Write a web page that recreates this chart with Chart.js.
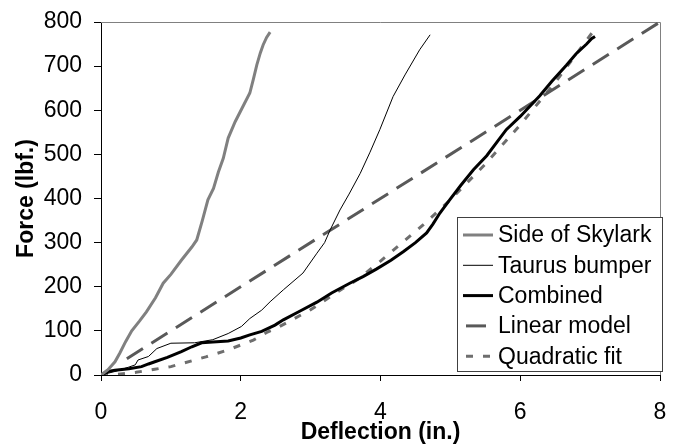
<!DOCTYPE html>
<html>
<head>
<meta charset="utf-8">
<script src="https://cdn.jsdelivr.net/npm/chart.js@4"></script>
<style>
html,body{margin:0;padding:0;background:#fff;}
canvas{display:block;}
</style>
</head>
<body>
<canvas id="c" width="678" height="446"></canvas>
<script>
// ---- data ----
const seriesLabels = ['Side of Skylark', 'Taurus bumper', 'Combined', 'Linear model', 'Quadratic fit'];

const skylarkX = [0, 0.1, 0.2, 0.27, 0.35, 0.44, 0.55, 0.65, 0.78, 0.89, 1.0, 1.15, 1.3, 1.37, 1.45, 1.53, 1.61, 1.68, 1.75, 1.82, 1.92, 2.02, 2.13, 2.18, 2.23, 2.28, 2.32, 2.37, 2.42];
const skylarkY = [0, 12, 30, 50, 75, 100, 122, 143, 175, 208, 228, 260, 290, 306, 350, 397, 423, 460, 491, 537, 574, 605, 639, 670, 703, 730, 748, 765, 777];

const taurusX = [0, 0.2, 0.4, 0.49, 0.53, 0.68, 0.8, 1.0, 1.34, 1.6, 1.82, 2.01, 2.13, 2.3, 2.42, 2.61, 2.89, 3.09, 3.2, 3.28, 3.42, 3.55, 3.71, 3.85, 3.99, 4.18, 4.35, 4.56, 4.71];
const taurusY = [0, 8, 18, 23, 34, 42, 60, 72, 73, 80, 94, 110, 128, 147, 166, 193, 231, 276, 300, 329, 374, 410, 457, 505, 556, 631, 680, 737, 771];

const combinedX = [0, 0.1, 0.2, 0.4, 0.58, 0.68, 0.77, 0.95, 1.15, 1.3, 1.44, 1.6, 1.82, 2.0, 2.13, 2.3, 2.49, 2.61, 2.85, 3.09, 3.3, 3.56, 3.75, 3.94, 4.15, 4.33, 4.5, 4.66, 4.75, 4.85, 4.99, 5.15, 5.33, 5.52, 5.8, 6.0, 6.28, 6.45, 6.66, 6.8, 6.95, 7.02, 7.07];
const combinedY = [0, 8, 11, 14, 19, 25, 30, 40, 53, 64, 73, 75, 77, 84, 91, 99, 113, 125, 145, 165, 186, 208, 223, 240, 260, 280, 300, 322, 342, 367, 397, 430, 465, 497, 556, 586, 633, 665, 702, 728, 750, 762, 767];

const linearX = [0.37, 8];
const linearY = [37, 800];

const quadX = [0, 0.25, 0.5, 0.77, 1.0, 1.34, 1.5, 1.82, 2.18, 2.39, 2.5, 3.0, 3.5, 3.66, 4.0, 4.61, 5.0, 5.5, 6.0, 6.5, 7.04];
const quadY = [0, 2, 6, 13, 19, 34, 41, 57, 79, 98, 105, 148, 200, 215, 258, 340, 397, 478, 567, 663, 778];

const xTicks = [0, 2, 4, 6, 8];
const yTicks = [0, 100, 200, 300, 400, 500, 600, 700, 800];

function pts(xs, ys) { return xs.map((x, i) => ({x: x, y: ys[i]})); }

const FONT = 'Liberation Sans, Arial, Helvetica, sans-serif';
Chart.defaults.font.family = FONT;
Chart.defaults.font.size = 23;
Chart.defaults.color = '#000';

const framePlugin = {
  id: 'frame',
  beforeDatasetsDraw(chart) {
    const {ctx, chartArea: a} = chart;
    ctx.save();
    ctx.strokeStyle = '#808080';
    ctx.lineWidth = 1;
    ctx.beginPath();
    ctx.moveTo(a.left, a.top + 0.5);
    ctx.lineTo(a.right + 0.5, a.top + 0.5);
    ctx.lineTo(a.right + 0.5, a.bottom);
    ctx.stroke();
    ctx.restore();
  }
};

const boxLegend = {
  id: 'boxLegend',
  afterDatasetsDraw(chart) {
    const {ctx, chartArea: a} = chart;
    const L = a.right - 203, R = a.right + 3, T = a.bottom - 158, B = a.bottom - 3;
    ctx.save();
    ctx.fillStyle = '#fff';
    ctx.fillRect(L, T, R - L, B - T);
    ctx.strokeStyle = '#404040';
    ctx.lineWidth = 1;
    ctx.strokeRect(L + 0.5, T + 0.5, R - L - 1, B - T - 1);
    const ds = chart.data.datasets;
    ds.forEach((d, i) => {
      const cy = T + 18 + i * 30.3;
      ctx.beginPath();
      ctx.strokeStyle = d.borderColor;
      ctx.lineWidth = d.borderWidth;
      ctx.setLineDash(d.legendDash || []);
      ctx.lineDashOffset = d.legendDashOffset || 0;
      ctx.moveTo(L + 6, cy);
      ctx.lineTo(L + 36, cy);
      ctx.stroke();
      ctx.setLineDash([]);
      ctx.fillStyle = '#000';
      ctx.font = '23px ' + FONT;
      ctx.textBaseline = 'middle';
      ctx.textAlign = 'left';
      ctx.fillText(d.label, L + 41, cy + 1);
    });
    ctx.restore();
  }
};

const common = {showLine: true, pointRadius: 0, pointHoverRadius: 0, tension: 0, fill: false};

new Chart(document.getElementById('c'), {
  type: 'scatter',
  data: {
    datasets: [
      Object.assign({label: seriesLabels[0], data: pts(skylarkX, skylarkY), borderColor: '#808080', borderWidth: 3}, common),
      Object.assign({label: seriesLabels[1], data: pts(taurusX, taurusY), borderColor: '#000', borderWidth: 1}, common),
      Object.assign({label: seriesLabels[2], data: pts(combinedX, combinedY), borderColor: '#000', borderWidth: 3}, common),
      Object.assign({label: seriesLabels[3], data: pts(linearX, linearY), borderColor: '#595959', borderWidth: 3, borderDash: [19, 10], legendDash: [20, 10], legendDashOffset: 27}, common),
      Object.assign({label: seriesLabels[4], data: pts(quadX, quadY), borderColor: '#6e6e6e', borderWidth: 3, borderDash: [7, 10], legendDash: [7, 10], legendDashOffset: 14}, common)
    ]
  },
  options: {
    responsive: false,
    animation: false,
    devicePixelRatio: 1,
    layout: {padding: {top: 22, right: 18, bottom: 0, left: 0}},
    plugins: {legend: {display: false}, tooltip: {enabled: false}},
    scales: {
      x: {
        type: 'linear', position: 'bottom', min: 0, max: 8,
        afterBuildTicks(s) { s.ticks = xTicks.map(v => ({value: v})); },
        ticks: {padding: 18, color: '#000', font: {size: 23}, maxRotation: 0, autoSkip: false},
        grid: {display: true, drawOnChartArea: false, drawTicks: true, tickLength: 6, color: '#000', lineWidth: 1},
        border: {display: true, color: '#000', width: 1},
        title: {display: true, text: 'Deflection (in.)', color: '#000', font: {size: 23, weight: 'bold'}, padding: {top: 0, bottom: 0}},
        afterFit(s) { s.height = 71; s.paddingLeft = 0; s.paddingRight = 0; }
      },
      y: {
        type: 'linear', position: 'left', min: 0, max: 800,
        afterBuildTicks(s) { s.ticks = yTicks.map(v => ({value: v})); },
        ticks: {padding: 12, color: '#000', font: {size: 23}, autoSkip: false},
        grid: {display: true, drawOnChartArea: false, drawTicks: true, tickLength: 7, color: '#000', lineWidth: 1},
        border: {display: true, color: '#000', width: 1},
        title: {display: true, text: 'Force (lbf.)', color: '#000', font: {size: 23, weight: 'bold'}, padding: {top: 13, bottom: 0}},
        afterFit(s) { s.width = 101; s.paddingTop = 0; s.paddingBottom = 0; }
      }
    }
  },
  plugins: [framePlugin, boxLegend]
});
</script>
</body>
</html>
